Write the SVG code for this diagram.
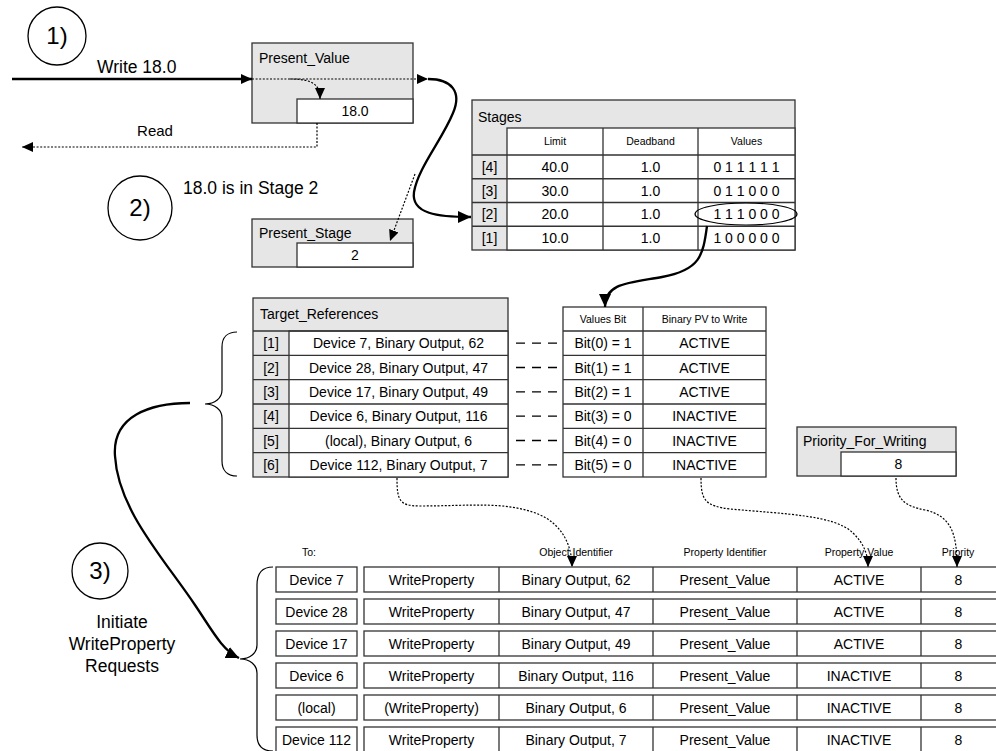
<svg xmlns="http://www.w3.org/2000/svg" width="996" height="751" viewBox="0 0 996 751">
<defs>
<style>
text{font-family:"Liberation Sans",Arial,sans-serif;fill:#000}
.c{text-anchor:middle}
.f14{font-size:14px}
.f10{font-size:10.5px}
.f15{font-size:15px}
.f17{font-size:17.5px}
.f24{font-size:24px}
.g{fill:#e6e6e6;stroke:#333;stroke-width:1.3}
.w{fill:#fff;stroke:#333;stroke-width:1.3}
.ln{stroke:#333;stroke-width:1.3;fill:none}
.sol{fill:none;stroke:#000;stroke-width:2.3}
.dot{fill:none;stroke:#000;stroke-width:1.2;stroke-dasharray:2 1.6}
.dsh{stroke:#000;stroke-width:1.3;stroke-dasharray:9 7}
.thin{fill:none;stroke:#000;stroke-width:1.2}
.circ{fill:#fff;stroke:#000;stroke-width:1.3}
</style>
<marker id="ah" viewBox="0 0 11 10" refX="11" refY="5" markerWidth="11" markerHeight="10" markerUnits="userSpaceOnUse" orient="auto"><path d="M0,0L11,5L0,10z" fill="#000"/></marker>
<marker id="ahb" viewBox="0 0 13 12" refX="13" refY="6" markerWidth="13" markerHeight="12" markerUnits="userSpaceOnUse" orient="auto"><path d="M0,0L13,6L0,12z" fill="#000"/></marker>
</defs>
<rect width="996" height="751" fill="#fff"/>

<g id="step1">
<circle class="circ" cx="57" cy="36" r="29"/>
<text class="f24 c" x="57" y="44">1)</text>
<text class="f17" x="97" y="73">Write 18.0</text>
<text class="f15 c" x="155" y="136">Read</text>
</g>
<g id="step2">
<circle class="circ" cx="140" cy="208" r="32"/>
<text class="f24 c" x="140" y="216">2)</text>
<text class="f17" x="183" y="194">18.0 is in Stage 2</text>
</g>
<g id="step3">
<circle class="circ" cx="100" cy="571" r="28"/>
<text class="f24 c" x="100" y="579">3)</text>
<text class="f17 c" x="122" y="628">Initiate</text>
<text class="f17 c" x="122" y="650">WriteProperty</text>
<text class="f17 c" x="122" y="672">Requests</text>
</g>

<g id="present-value">
<rect class="g" x="252" y="43" width="161" height="80"/>
<rect class="w" x="297" y="99" width="116" height="24"/>
<text class="f14" x="259" y="63">Present_Value</text>
<text class="f14 c" x="355" y="116">18.0</text>
</g>

<g id="present-stage">
<rect class="g" x="252" y="219" width="161" height="48"/>
<rect class="w" x="297" y="243" width="116" height="24"/>
<text class="f14" x="259" y="238">Present_Stage</text>
<text class="f14 c" x="355" y="260">2</text>
</g>

<g id="stages">
<rect class="g" x="472" y="100" width="323" height="150"/>
<rect class="w" x="507" y="128" width="288" height="122"/>
<path class="ln" d="M472,155H795M472,178.75H795M472,202.5H795M472,226.25H795M603,128V250M698,128V250"/>
<text class="f14" x="478" y="122">Stages</text>
<text class="f10 c" x="555" y="145">Limit</text>
<text class="f10 c" x="650.5" y="145">Deadband</text>
<text class="f10 c" x="746.5" y="145">Values</text>
<text class="f14 c" x="489.5" y="172">[4]</text>
<text class="f14 c" x="555" y="172">40.0</text>
<text class="f14 c" x="650.5" y="172">1.0</text>
<text class="f14 c" x="746.5" y="172">0 1 1 1 1 1</text>
<text class="f14 c" x="489.5" y="195.6">[3]</text>
<text class="f14 c" x="555" y="195.6">30.0</text>
<text class="f14 c" x="650.5" y="195.6">1.0</text>
<text class="f14 c" x="746.5" y="195.6">0 1 1 0 0 0</text>
<text class="f14 c" x="489.5" y="219.4">[2]</text>
<text class="f14 c" x="555" y="219.4">20.0</text>
<text class="f14 c" x="650.5" y="219.4">1.0</text>
<text class="f14 c" x="746.5" y="219.4">1 1 1 0 0 0</text>
<text class="f14 c" x="489.5" y="243.1">[1]</text>
<text class="f14 c" x="555" y="243.1">10.0</text>
<text class="f14 c" x="650.5" y="243.1">1.0</text>
<text class="f14 c" x="746.5" y="243.1">1 0 0 0 0 0</text>
<ellipse class="thin" cx="746" cy="214" rx="51" ry="11"/>
</g>

<g id="target-references">
<rect class="g" x="253" y="298" width="255" height="179"/>
<rect class="w" x="289" y="331" width="219" height="146"/>
<path class="ln" d="M253,331H508M253,355.3H508M253,379.7H508M253,404H508M253,428.3H508M253,452.7H508"/>
<text class="f14" x="260" y="319">Target_References</text>
<text class="f14 c" x="271" y="348">[1]</text>
<text class="f14 c" x="398.5" y="348">Device 7, Binary Output, 62</text>
<text class="f14 c" x="271" y="372.5">[2]</text>
<text class="f14 c" x="398.5" y="372.5">Device 28, Binary Output, 47</text>
<text class="f14 c" x="271" y="396.8">[3]</text>
<text class="f14 c" x="398.5" y="396.8">Device 17, Binary Output, 49</text>
<text class="f14 c" x="271" y="421.2">[4]</text>
<text class="f14 c" x="398.5" y="421.2">Device 6, Binary Output, 116</text>
<text class="f14 c" x="271" y="445.5">[5]</text>
<text class="f14 c" x="398.5" y="445.5">(local), Binary Output, 6</text>
<text class="f14 c" x="271" y="469.8">[6]</text>
<text class="f14 c" x="398.5" y="469.8">Device 112, Binary Output, 7</text>
<path class="thin" d="M237,332C228,332 222,337 222,347L222,390C222,398 215,404 205,404C215,404 222,410 222,418L222,461C222,471 228,476 237,476"/>
</g>

<g id="values-bit">
<rect class="w" x="563" y="307" width="203" height="170"/>
<path class="ln" d="M643,307V477M563,331H766M563,355.3H766M563,379.7H766M563,404H766M563,428.3H766M563,452.7H766"/>
<text class="f10 c" x="603" y="323">Values Bit</text>
<text class="f10 c" x="704.5" y="323">Binary PV to Write</text>
<text class="f14 c" x="603" y="348">Bit(0) = 1</text>
<text class="f14 c" x="704.5" y="348">ACTIVE</text>
<text class="f14 c" x="603" y="372.5">Bit(1) = 1</text>
<text class="f14 c" x="704.5" y="372.5">ACTIVE</text>
<text class="f14 c" x="603" y="396.8">Bit(2) = 1</text>
<text class="f14 c" x="704.5" y="396.8">ACTIVE</text>
<text class="f14 c" x="603" y="421.2">Bit(3) = 0</text>
<text class="f14 c" x="704.5" y="421.2">INACTIVE</text>
<text class="f14 c" x="603" y="445.5">Bit(4) = 0</text>
<text class="f14 c" x="704.5" y="445.5">INACTIVE</text>
<text class="f14 c" x="603" y="469.8">Bit(5) = 0</text>
<text class="f14 c" x="704.5" y="469.8">INACTIVE</text>
</g>

<g id="priority-for-writing">
<rect class="g" x="797" y="427" width="159" height="49"/>
<rect class="w" x="841" y="452" width="115" height="24"/>
<text class="f14" x="803" y="446">Priority_For_Writing</text>
<text class="f14 c" x="898.5" y="469">8</text>
</g>

<g id="requests">
<text class="f10" x="302" y="556">To:</text>
<text class="f10 c" x="576" y="556">Object Identifier</text>
<text class="f10 c" x="725" y="556">Property Identifier</text>
<text class="f10 c" x="859" y="556">Property Value</text>
<text class="f10 c" x="958" y="556">Priority</text>
<path class="thin" d="M273,567C262,567 257,573 257,585L257,645C257,653 250,659 240,659C250,659 257,665 257,673L257,735C257,745 262,751 273,751"/>
<g id="req1">
<rect class="w" x="276" y="567" width="81" height="25"/><rect class="w" x="364" y="567" width="640" height="25"/>
<path class="ln" d="M499,567v25M653,567v25M797,567v25M921,567v25"/>
<text class="f14 c" x="316.5" y="584.5">Device 7</text><text class="f14 c" x="431.5" y="584.5">WriteProperty</text><text class="f14 c" x="576" y="584.5">Binary Output, 62</text><text class="f14 c" x="725" y="584.5">Present_Value</text><text class="f14 c" x="859" y="584.5">ACTIVE</text><text class="f14 c" x="958.5" y="584.5">8</text>
</g>
<g id="req2">
<rect class="w" x="276" y="599" width="81" height="25"/><rect class="w" x="364" y="599" width="640" height="25"/>
<path class="ln" d="M499,599v25M653,599v25M797,599v25M921,599v25"/>
<text class="f14 c" x="316.5" y="616.5">Device 28</text><text class="f14 c" x="431.5" y="616.5">WriteProperty</text><text class="f14 c" x="576" y="616.5">Binary Output, 47</text><text class="f14 c" x="725" y="616.5">Present_Value</text><text class="f14 c" x="859" y="616.5">ACTIVE</text><text class="f14 c" x="958.5" y="616.5">8</text>
</g>
<g id="req3">
<rect class="w" x="276" y="631" width="81" height="25"/><rect class="w" x="364" y="631" width="640" height="25"/>
<path class="ln" d="M499,631v25M653,631v25M797,631v25M921,631v25"/>
<text class="f14 c" x="316.5" y="648.5">Device 17</text><text class="f14 c" x="431.5" y="648.5">WriteProperty</text><text class="f14 c" x="576" y="648.5">Binary Output, 49</text><text class="f14 c" x="725" y="648.5">Present_Value</text><text class="f14 c" x="859" y="648.5">ACTIVE</text><text class="f14 c" x="958.5" y="648.5">8</text>
</g>
<g id="req4">
<rect class="w" x="276" y="663" width="81" height="25"/><rect class="w" x="364" y="663" width="640" height="25"/>
<path class="ln" d="M499,663v25M653,663v25M797,663v25M921,663v25"/>
<text class="f14 c" x="316.5" y="680.5">Device 6</text><text class="f14 c" x="431.5" y="680.5">WriteProperty</text><text class="f14 c" x="576" y="680.5">Binary Output, 116</text><text class="f14 c" x="725" y="680.5">Present_Value</text><text class="f14 c" x="859" y="680.5">INACTIVE</text><text class="f14 c" x="958.5" y="680.5">8</text>
</g>
<g id="req5">
<rect class="w" x="276" y="695" width="81" height="25"/><rect class="w" x="364" y="695" width="640" height="25"/>
<path class="ln" d="M499,695v25M653,695v25M797,695v25M921,695v25"/>
<text class="f14 c" x="316.5" y="712.5">(local)</text><text class="f14 c" x="431.5" y="712.5">(WriteProperty)</text><text class="f14 c" x="576" y="712.5">Binary Output, 6</text><text class="f14 c" x="725" y="712.5">Present_Value</text><text class="f14 c" x="859" y="712.5">INACTIVE</text><text class="f14 c" x="958.5" y="712.5">8</text>
</g>
<g id="req6">
<rect class="w" x="276" y="727" width="81" height="25"/><rect class="w" x="364" y="727" width="640" height="25"/>
<path class="ln" d="M499,727v25M653,727v25M797,727v25M921,727v25"/>
<text class="f14 c" x="316.5" y="744.5">Device 112</text><text class="f14 c" x="431.5" y="744.5">WriteProperty</text><text class="f14 c" x="576" y="744.5">Binary Output, 7</text><text class="f14 c" x="725" y="744.5">Present_Value</text><text class="f14 c" x="859" y="744.5">INACTIVE</text><text class="f14 c" x="958.5" y="744.5">8</text>
</g>
</g>

<g id="connectors">
<path class="sol" d="M12,79H252" marker-end="url(#ah)"/>
<path class="dot" d="M252,79H428" marker-end="url(#ah)"/>
<path class="dot" d="M290,79C312,79 320,84 320,99" marker-end="url(#ah)"/>
<path class="dot" d="M317,123V147H22" marker-end="url(#ah)"/>
<path class="sol" d="M428,79C452,79 462,92 453,113C442,140 418,168 414,192C411,214 438,217 471,217" marker-end="url(#ahb)"/>
<path class="dot" d="M415,174L390,241" marker-end="url(#ah)"/>
<path class="sol" d="M707,226C703,256 700,270 662,277C628,283 605,283 605,307" marker-end="url(#ahb)"/>
<path class="dsh" d="M516,343.2H557M516,367.5H557M516,391.8H557M516,416.2H557M516,440.5H557M516,464.8H557"/>
<path class="sol" d="M190,403C150,403 112,416 115,456C118,510 165,560 195,605C212,630 222,650 239,658" marker-end="url(#ahb)"/>
<path class="dot" d="M397,478C397,500 399,506 420,506C470,506 505,501 538,514C562,524 572,545 572,567" marker-end="url(#ah)"/>
<path class="dot" d="M701,478C701,500 705,506 730,509C785,514 835,515 853,533C864,544 868,554 868,567" marker-end="url(#ah)"/>
<path class="dot" d="M896,478C896,500 905,506 925,510C952,516 957,535 957,567" marker-end="url(#ah)"/>
</g>
</svg>
